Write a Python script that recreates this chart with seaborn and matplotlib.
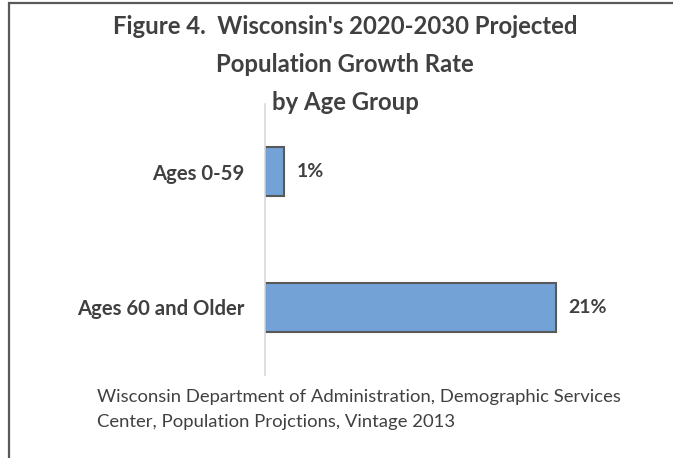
import matplotlib
matplotlib.use("Agg")
import matplotlib.pyplot as plt
import seaborn as sns
from matplotlib.patches import Rectangle

# data
age_groups = ["Ages 0-59", "Ages 60 and Older"]
growth_pct = [1.4, 21.0]
bar_labels = ["1%", "21%"]
title_lines = ["Figure 4.  Wisconsin's 2020-2030 Projected",
               "Population Growth Rate",
               "by Age Group"]
source_lines = ["Wisconsin Department of Administration, Demographic Services",
                "Center, Population Projctions, Vintage 2013"]

sns.set_style("white")
plt.rcParams['font.family'] = ['Lato', 'DejaVu Sans']

W, H = 673, 458
fig = plt.figure(figsize=(W / 100, H / 100), dpi=100)
ax = fig.add_axes([265 / W, 1 - 375 / H, 346 / W, 271 / H])

sns.barplot(x=growth_pct, y=age_groups, orient="h", color="#73A2D6",
            edgecolor="#595959", linewidth=1.5, width=0.36, saturation=1, ax=ax)

ax.set_xlim(0, 25)
ax.set_ylim(1.5, -0.5)
ax.set_xticks([])
ax.set_xlabel("")
ax.set_ylabel("")
for side in ["top", "right", "bottom"]:
    ax.spines[side].set_visible(False)
ax.spines["left"].set_color("#D9D9D9")
ax.spines["left"].set_linewidth(1.2)
ax.tick_params(axis="y", length=0, pad=15)
for t in ax.get_yticklabels():
    t.set_fontsize(14.6)
    t.set_fontweight("bold")
    t.set_color("#404040")

for i, (v, lab) in enumerate(zip(growth_pct, bar_labels)):
    ax.annotate(lab, xy=(v, i), xytext=(9, 0), textcoords="offset points",
                ha="left", va="center", fontsize=14, fontweight="bold",
                color="#404040")

# title, three centered lines
for k, line in enumerate(title_lines):
    fig.text(345 / W, 1 - (27 + 38 * k) / H, line, ha="center", va="center",
             fontsize=17.2, fontweight="bold", color="#404040")

# source note
for k, line in enumerate(source_lines):
    fig.text(97 / W, 1 - (397 + 25 * k) / H, line, ha="left", va="center",
             fontsize=13.3, color="#404040")

# chart border (only top and left edges visible in the crop)
fig.patches.append(Rectangle((9 / W, -0.1), 1.2, 1.1 - 3 / H, transform=fig.transFigure,
                             fill=False, edgecolor="#595959", linewidth=1.6))

fig.savefig("out.png", dpi=100)
